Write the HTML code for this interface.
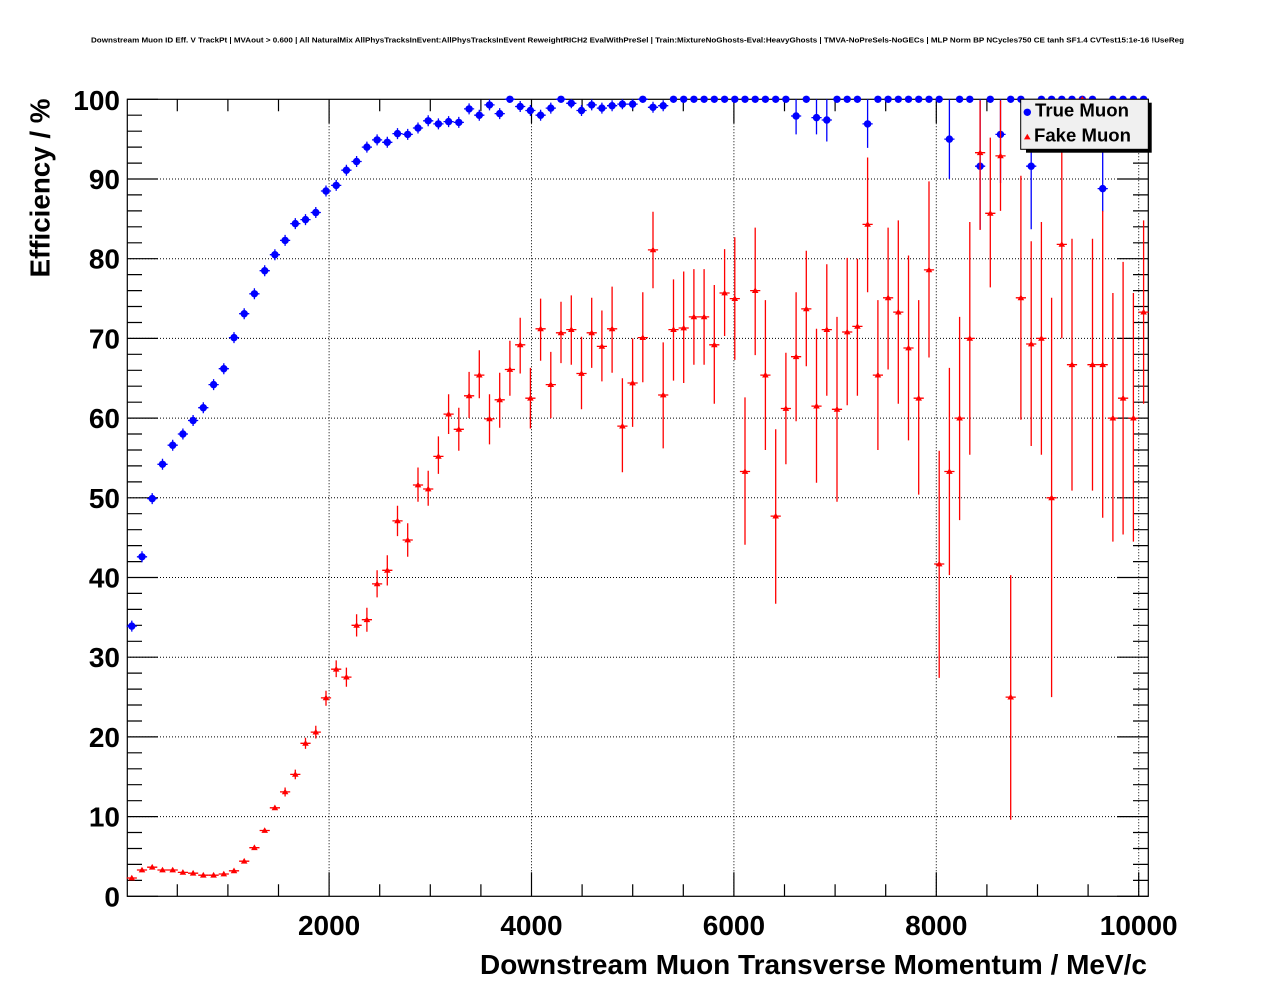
<!DOCTYPE html>
<html><head><meta charset="utf-8"><style>
html,body{margin:0;padding:0;background:#fff;}
svg{display:block;}
text{font-family:"Liberation Sans",Arial,Helvetica,sans-serif;font-weight:bold;fill:#000;}
</style></head><body>
<svg width="1276" height="996" viewBox="0 0 1276 996" xmlns="http://www.w3.org/2000/svg">
<defs>
<circle id="c" r="3.7" fill="#0000ff"/>
<path id="t" d="M-3.3,2.4H3.3L0,-3.3Z" fill="#ff0000"/>
</defs>
<rect width="1276" height="996" fill="#fff"/>
<text x="91" y="42.7" font-size="7.7" textLength="1093" lengthAdjust="spacingAndGlyphs">Downstream Muon ID Eff. V TrackPt | MVAout &gt; 0.600 | All NaturalMix AllPhysTracksInEvent:AllPhysTracksInEvent ReweightRICH2 EvalWithPreSel | Train:MixtureNoGhosts-Eval:HeavyGhosts | TMVA-NoPreSels-NoGECs | MLP Norm BP NCycles750 CE tanh SF1.4 CVTest15:1e-16 !UseReg</text>

<!-- grid -->
<g stroke="#000" stroke-width="1" stroke-dasharray="1 2" fill="none">
<path d="M329.1 99.3V896.3M531.5 99.3V896.3M733.9 99.3V896.3M936.3 99.3V896.3M1138.7 99.3V896.3"/>
<path d="M127 816.6H1148M127 736.9H1148M127 657.2H1148M127 577.5H1148M127 497.8H1148M127 418.1H1148M127 338.4H1148M127 258.7H1148M127 179H1148"/>
</g>

<!-- frame -->
<rect x="127.3" y="99.3" width="1021" height="797" fill="none" stroke="#000" stroke-width="1.2"/>

<!-- ticks -->
<g stroke="#000" stroke-width="1.2" fill="none">
<path d="M127 896.3h31M127 816.6h31M127 736.9h31M127 657.2h31M127 577.5h31M127 497.8h31M127 418.1h31M127 338.4h31M127 258.7h31M127 179h31M127 99.3h31"/>
<path d="M127 880.4h15M127 864.4h15M127 848.5h15M127 832.5h15M127 800.7h15M127 784.7h15M127 768.8h15M127 752.8h15M127 721h15M127 705h15M127 689.1h15M127 673.1h15M127 641.3h15M127 625.3h15M127 609.4h15M127 593.4h15M127 561.6h15M127 545.6h15M127 529.7h15M127 513.7h15M127 481.9h15M127 465.9h15M127 450h15M127 434h15M127 402.2h15M127 386.2h15M127 370.3h15M127 354.3h15M127 322.5h15M127 306.5h15M127 290.6h15M127 274.6h15M127 242.8h15M127 226.8h15M127 210.9h15M127 194.9h15M127 163.1h15M127 147.1h15M127 131.2h15M127 115.2h15"/>
<path d="M1148 896.3h-31M1148 816.6h-31M1148 736.9h-31M1148 657.2h-31M1148 577.5h-31M1148 497.8h-31M1148 418.1h-31M1148 338.4h-31M1148 258.7h-31M1148 179h-31M1148 99.3h-31"/>
<path d="M1148 880.4h-15M1148 864.4h-15M1148 848.5h-15M1148 832.5h-15M1148 800.7h-15M1148 784.7h-15M1148 768.8h-15M1148 752.8h-15M1148 721h-15M1148 705h-15M1148 689.1h-15M1148 673.1h-15M1148 641.3h-15M1148 625.3h-15M1148 609.4h-15M1148 593.4h-15M1148 561.6h-15M1148 545.6h-15M1148 529.7h-15M1148 513.7h-15M1148 481.9h-15M1148 465.9h-15M1148 450h-15M1148 434h-15M1148 402.2h-15M1148 386.2h-15M1148 370.3h-15M1148 354.3h-15M1148 322.5h-15M1148 306.5h-15M1148 290.6h-15M1148 274.6h-15M1148 242.8h-15M1148 226.8h-15M1148 210.9h-15M1148 194.9h-15M1148 163.1h-15M1148 147.1h-15M1148 131.2h-15M1148 115.2h-15"/>
<path d="M177.3 896.3v-12M227.9 896.3v-12M278.5 896.3v-12M329.1 896.3v-24M379.7 896.3v-12M430.3 896.3v-12M480.9 896.3v-12M531.5 896.3v-24M582.1 896.3v-12M632.7 896.3v-12M683.3 896.3v-12M733.9 896.3v-24M784.5 896.3v-12M835.1 896.3v-12M885.7 896.3v-12M936.3 896.3v-24M986.9 896.3v-12M1037.5 896.3v-12M1088.1 896.3v-12M1138.7 896.3v-24"/>
<path d="M177.3 99.3v12M227.9 99.3v12M278.5 99.3v12M329.1 99.3v24M379.7 99.3v12M430.3 99.3v12M480.9 99.3v12M531.5 99.3v24M582.1 99.3v12M632.7 99.3v12M683.3 99.3v12M733.9 99.3v24M784.5 99.3v12M835.1 99.3v12M885.7 99.3v12M936.3 99.3v24M986.9 99.3v12M1037.5 99.3v12M1088.1 99.3v12M1138.7 99.3v24"/>
</g>

<!-- axis labels -->
<g font-size="28" text-anchor="end">
<text x="120" y="906.3">0</text>
<text x="120" y="826.6">10</text>
<text x="120" y="746.9">20</text>
<text x="120" y="667.2">30</text>
<text x="120" y="587.5">40</text>
<text x="120" y="507.8">50</text>
<text x="120" y="428.1">60</text>
<text x="120" y="348.4">70</text>
<text x="120" y="268.7">80</text>
<text x="120" y="189">90</text>
<text x="120" y="110">100</text>
</g>
<g font-size="28" text-anchor="middle">
<text x="329.1" y="935">2000</text>
<text x="531.5" y="935">4000</text>
<text x="733.9" y="935">6000</text>
<text x="936.3" y="935">8000</text>
<text x="1138.7" y="935">10000</text>
</g>
<text x="1147" y="974" font-size="28" text-anchor="end" textLength="667" lengthAdjust="spacingAndGlyphs">Downstream Muon Transverse Momentum / MeV/c</text>
<text transform="translate(49.5,277.5) rotate(-90)" x="0" y="0" font-size="28" textLength="179" lengthAdjust="spacingAndGlyphs">Efficiency / %</text>

<!-- blue series -->
<path fill="none" stroke="#0000ff" stroke-width="1.3" d="M126.7 626.1h10.2M131.8 620.6v11M136.9 556.8h10.2M142 551.3v11M147.1 498.6h10.2M152.2 493.1v11M157.4 464.3h10.2M162.5 458.8v11M167.6 445.2h10.2M172.7 439.7v11M177.8 434h10.2M182.9 428.5v11M188 420.5h10.2M193.1 415v11M198.2 407.7h10.2M203.3 402.2v11M208.5 384.6h10.2M213.6 379.1v11M218.7 368.7h10.2M223.8 363.2v11M228.9 337.6h10.2M234 332.1v11M239.1 313.7h10.2M244.2 308.2v11M249.3 293.8h10.2M254.4 288.3v11M259.6 270.7h10.2M264.7 265.2v11M269.8 254.7h10.2M274.9 249.2v11M280 240.4h10.2M285.1 234.9v11M290.2 223.6h10.2M295.3 218.1v11M300.4 219.6h10.2M305.5 214.1v11M310.7 212.5h10.2M315.8 207v11M320.9 191h10.2M326 185.5v11M331.1 185.4h10.2M336.2 179.9v11M341.3 170.2h10.2M346.4 164.7v11M351.5 161.5h10.2M356.6 156v11M361.8 147.1h10.2M366.9 141.6v11M372 139.9h10.2M377.1 134.4v11M382.2 142.3h10.2M387.3 136.8v11M392.4 133.6h10.2M397.5 128.1v11M402.6 134.4h10.2M407.7 128.9v11M412.9 128h10.2M418 122.5v11M423.1 120.8h10.2M428.2 115.3v11M433.3 123.9h10.2M438.4 118.4v11M443.5 121.6h10.2M448.6 116.1v11M453.7 122.4h10.2M458.8 116.9v11M464 108.9h10.2M469.1 103.4v11M474.2 115.2h10.2M479.3 109.7v11M484.4 104.9h10.2M489.5 99.4v11M494.6 113.6h10.2M499.7 108.1v11M504.8 99.3h10.2M515.1 106.5h10.2M520.2 101v11M525.3 110.5h10.2M530.4 105v11M535.5 115.2h10.2M540.6 109.7v11M545.7 108.1h10.2M550.8 102.6v11M555.9 99.3h10.2M566.2 103.3h10.2M571.3 99.3v9M576.4 110.5h10.2M581.5 105v11M586.6 104.9h10.2M591.7 99.4v11M596.8 108.1h10.2M601.9 102.6v11M607 105.7h10.2M612.1 100.2v11M617.3 104.1h10.2M622.4 99.3v10M627.5 104.1h10.2M632.6 99.3v10M637.7 99.3h10.2M647.9 107.3h10.2M653 101.8v11M658.1 105.7h10.2M663.2 100.2v11M791 116h10.2M796.1 99.3V134.4M811.4 117.6h10.2M816.5 99.3V134.4M821.7 120h10.2M826.8 99.3V141.5M862.5 123.9h10.2M867.6 99.3V147.9M944.3 139.1h10.2M949.4 99.3V179M975 166.2h10.2M980.1 99.3V229.2M995.4 134.4h10.2M1000.5 99.3V183M1026.1 166.2h10.2M1031.2 99.3V229.2M1097.6 188.6h10.2M1102.7 99.3V211.7"/>
<g>
<use href="#c" x="131.8" y="626.1"/><use href="#c" x="142" y="556.8"/><use href="#c" x="152.2" y="498.6"/><use href="#c" x="162.5" y="464.3"/><use href="#c" x="172.7" y="445.2"/><use href="#c" x="182.9" y="434"/><use href="#c" x="193.1" y="420.5"/><use href="#c" x="203.3" y="407.7"/><use href="#c" x="213.6" y="384.6"/><use href="#c" x="223.8" y="368.7"/>
<use href="#c" x="234" y="337.6"/><use href="#c" x="244.2" y="313.7"/><use href="#c" x="254.4" y="293.8"/><use href="#c" x="264.7" y="270.7"/><use href="#c" x="274.9" y="254.7"/><use href="#c" x="285.1" y="240.4"/><use href="#c" x="295.3" y="223.6"/><use href="#c" x="305.5" y="219.6"/><use href="#c" x="315.8" y="212.5"/><use href="#c" x="326" y="191"/>
<use href="#c" x="336.2" y="185.4"/><use href="#c" x="346.4" y="170.2"/><use href="#c" x="356.6" y="161.5"/><use href="#c" x="366.9" y="147.1"/><use href="#c" x="377.1" y="139.9"/><use href="#c" x="387.3" y="142.3"/><use href="#c" x="397.5" y="133.6"/><use href="#c" x="407.7" y="134.4"/><use href="#c" x="418" y="128"/><use href="#c" x="428.2" y="120.8"/>
<use href="#c" x="438.4" y="123.9"/><use href="#c" x="448.6" y="121.6"/><use href="#c" x="458.8" y="122.4"/><use href="#c" x="469.1" y="108.9"/><use href="#c" x="479.3" y="115.2"/><use href="#c" x="489.5" y="104.9"/><use href="#c" x="499.7" y="113.6"/><use href="#c" x="509.9" y="99.3"/><use href="#c" x="520.2" y="106.5"/><use href="#c" x="530.4" y="110.5"/>
<use href="#c" x="540.6" y="115.2"/><use href="#c" x="550.8" y="108.1"/><use href="#c" x="561" y="99.3"/><use href="#c" x="571.3" y="103.3"/><use href="#c" x="581.5" y="110.5"/><use href="#c" x="591.7" y="104.9"/><use href="#c" x="601.9" y="108.1"/><use href="#c" x="612.1" y="105.7"/><use href="#c" x="622.4" y="104.1"/><use href="#c" x="632.6" y="104.1"/>
<use href="#c" x="642.8" y="99.3"/><use href="#c" x="653" y="107.3"/><use href="#c" x="663.2" y="105.7"/><use href="#c" x="673.5" y="99.3"/><use href="#c" x="683.7" y="99.3"/><use href="#c" x="693.9" y="99.3"/><use href="#c" x="704.1" y="99.3"/><use href="#c" x="714.3" y="99.3"/><use href="#c" x="724.6" y="99.3"/><use href="#c" x="734.8" y="99.3"/>
<use href="#c" x="745" y="99.3"/><use href="#c" x="755.2" y="99.3"/><use href="#c" x="765.4" y="99.3"/><use href="#c" x="775.7" y="99.3"/><use href="#c" x="785.9" y="99.3"/><use href="#c" x="796.1" y="116"/><use href="#c" x="806.3" y="99.3"/><use href="#c" x="816.5" y="117.6"/><use href="#c" x="826.8" y="120"/><use href="#c" x="837" y="99.3"/>
<use href="#c" x="847.2" y="99.3"/><use href="#c" x="857.4" y="99.3"/><use href="#c" x="867.6" y="123.9"/><use href="#c" x="877.9" y="99.3"/><use href="#c" x="888.1" y="99.3"/><use href="#c" x="898.3" y="99.3"/><use href="#c" x="908.5" y="99.3"/><use href="#c" x="918.7" y="99.3"/><use href="#c" x="929" y="99.3"/><use href="#c" x="939.2" y="99.3"/>
<use href="#c" x="949.4" y="139.1"/><use href="#c" x="959.6" y="99.3"/><use href="#c" x="969.8" y="99.3"/><use href="#c" x="980.1" y="166.2"/><use href="#c" x="990.3" y="99.3"/><use href="#c" x="1000.5" y="134.4"/><use href="#c" x="1010.7" y="99.3"/><use href="#c" x="1020.9" y="99.3"/><use href="#c" x="1031.2" y="166.2"/><use href="#c" x="1041.4" y="99.3"/>
<use href="#c" x="1051.6" y="99.3"/><use href="#c" x="1061.8" y="99.3"/><use href="#c" x="1072" y="99.3"/><use href="#c" x="1082.3" y="99.3"/><use href="#c" x="1092.5" y="99.3"/><use href="#c" x="1102.7" y="188.6"/><use href="#c" x="1112.9" y="99.3"/><use href="#c" x="1123.1" y="99.3"/><use href="#c" x="1133.4" y="99.3"/><use href="#c" x="1143.6" y="99.3"/>
</g>

<!-- red series -->
<path fill="none" stroke="#ff0000" stroke-width="1.3" d="M126.7 878h10.2M136.9 870h10.2M147.1 867.2h10.2M157.4 870h10.2M167.6 870h10.2M177.8 872.4h10.2M188 873.2h10.2M198.2 875.2h10.2M208.5 875.2h10.2M218.7 874h10.2M228.9 870.8h10.2M239.1 861.2h10.2M249.3 847.7h10.2M259.6 830.5h10.2M269.8 807.8h10.2M280 791.9h10.2M285.1 787.5v9M290.2 774.4h10.2M295.3 769.6v9.6M300.4 743.3h10.2M305.5 737.7V748.9M310.7 732.1h10.2M315.8 725.7V738.5M320.9 697.9h10.2M326 690.7V705.8M331.1 669.2h10.2M336.2 660.4V677.1M341.3 677.1h10.2M346.4 667.6V686.7M351.5 625.3h10.2M356.6 614.2V636.5M361.8 619.7h10.2M366.9 607.8V631.7M372 583.9h10.2M377.1 570.3V597.4M382.2 570.3h10.2M387.3 555.2V585.5M392.4 520.9h10.2M397.5 505.8V536.1M402.6 540h10.2M407.7 523.3V556.8M412.9 485h10.2M418 467.5V501.8M423.1 489h10.2M428.2 470.7V505.8M433.3 456.4h10.2M438.4 436.4V473.9M443.5 414.1h10.2M448.6 394.2V434M453.7 429.3h10.2M458.8 407.7V450.8M464 395.8h10.2M469.1 371.9V418.1M474.2 375.1h10.2M479.3 350.3V398.2M484.4 418.9h10.2M489.5 394.2V444.4M494.6 399.8h10.2M499.7 372.7V427.7M504.8 369.5h10.2M509.9 340.8V395.8M515.1 344.8h10.2M520.2 317.7V373.5M525.3 398.2h10.2M530.4 367.9V428.5M535.5 328.8h10.2M540.6 298.6V360.7M545.7 384.6h10.2M550.8 351.9V418.1M555.9 332.8h10.2M561 301.7V363.1M566.2 329.6h10.2M571.3 295.4V364.7M576.4 373.5h10.2M581.5 336.8V409.3M586.6 332.8h10.2M591.7 297.8V367.9M596.8 346.4h10.2M601.9 310.5V381.4M607 328.8h10.2M612.1 286.6V372.7M617.3 426.1h10.2M622.4 378.2V472.3M627.5 383h10.2M632.6 338.4V426.9M637.7 337.6h10.2M642.8 292.2V382.2M647.9 249.9h10.2M653 211.7V288.2M658.1 395h10.2M663.2 342.4V448.4M668.4 329.6h10.2M673.5 279.4V380.6M678.6 328h10.2M683.7 271.5V383M688.8 316.9h10.2M693.9 269.1V364.7M699 316.9h10.2M704.1 269.1V364.7M709.2 344.8h10.2M714.3 285V403.8M719.5 293h10.2M724.6 249.1V336M729.7 298.6h10.2M734.8 237.2V359.9M739.9 471.5h10.2M745 397.4V544.8M750.1 290.6h10.2M755.2 227.6V355.1M760.3 375.1h10.2M765.4 300.1V450M770.6 516.1h10.2M775.7 429.3V603.8M780.8 408.5h10.2M785.9 352.7V464.3M791 356.7h10.2M796.1 292.2V421.3M801.2 308.9h10.2M806.3 250.7V366.3M811.4 406.1h10.2M816.5 328.8V482.7M821.7 329.6h10.2M826.8 264.3V395.8M831.9 409.3h10.2M837 316.9V501.8M842.1 332h10.2M847.2 257.9V405.3M852.3 326.4h10.2M857.4 258.7V395.8M862.5 224.4h10.2M867.6 157.5V292.2M872.8 375.1h10.2M877.9 300.1V450M883 297.8h10.2M888.1 227.6V369.5M893.2 312.1h10.2M898.3 220.4V403.8M903.4 348h10.2M908.5 255.5V440.4M913.6 398.2h10.2M918.7 300.1V494.6M923.9 269.9h10.2M929 181.4V357.5M934.1 564h10.2M939.2 450.8V677.9M944.3 471.5h10.2M949.4 367.9V575.1M954.5 418.1h10.2M959.6 316.9V520.1M964.7 338.4h10.2M969.8 222V454.8M975 152.7h10.2M980.1 100.5V230M985.2 213.3h10.2M990.3 137.6V287.4M995.4 155.9h10.2M1000.5 100.5V210.9M1005.6 697.1h10.2M1010.7 575.1V819.8M1015.8 297.8h10.2M1020.9 175.8V419.7M1026.1 344h10.2M1031.2 241.2V446M1036.3 338.4h10.2M1041.4 222V454.8M1046.5 497.8h10.2M1051.6 297.8V697.1M1056.7 244.4h10.2M1061.8 149.5V338.4M1066.9 364.7h10.2M1072 238.8V490.6M1077.2 99.3h10.2M1082.3 99.3V147M1087.4 364.7h10.2M1092.5 238.8V490.6M1097.6 364.7h10.2M1102.7 210.9V517.7M1107.8 418.1h10.2M1112.9 293V541.6M1118 398.2h10.2M1123.1 261.9V534.5M1128.3 418.1h10.2M1133.4 293V541.6M1138.5 312.1h10.2M1143.6 220.4V403.8"/>
<g>
<use href="#t" x="131.8" y="878"/><use href="#t" x="142" y="870"/><use href="#t" x="152.2" y="867.2"/><use href="#t" x="162.5" y="870"/><use href="#t" x="172.7" y="870"/><use href="#t" x="182.9" y="872.4"/><use href="#t" x="193.1" y="873.2"/><use href="#t" x="203.3" y="875.2"/><use href="#t" x="213.6" y="875.2"/><use href="#t" x="223.8" y="874"/>
<use href="#t" x="234" y="870.8"/><use href="#t" x="244.2" y="861.2"/><use href="#t" x="254.4" y="847.7"/><use href="#t" x="264.7" y="830.5"/><use href="#t" x="274.9" y="807.8"/><use href="#t" x="285.1" y="791.9"/><use href="#t" x="295.3" y="774.4"/><use href="#t" x="305.5" y="743.3"/><use href="#t" x="315.8" y="732.1"/><use href="#t" x="326" y="697.9"/>
<use href="#t" x="336.2" y="669.2"/><use href="#t" x="346.4" y="677.1"/><use href="#t" x="356.6" y="625.3"/><use href="#t" x="366.9" y="619.7"/><use href="#t" x="377.1" y="583.9"/><use href="#t" x="387.3" y="570.3"/><use href="#t" x="397.5" y="520.9"/><use href="#t" x="407.7" y="540"/><use href="#t" x="418" y="485"/><use href="#t" x="428.2" y="489"/>
<use href="#t" x="438.4" y="456.4"/><use href="#t" x="448.6" y="414.1"/><use href="#t" x="458.8" y="429.3"/><use href="#t" x="469.1" y="395.8"/><use href="#t" x="479.3" y="375.1"/><use href="#t" x="489.5" y="418.9"/><use href="#t" x="499.7" y="399.8"/><use href="#t" x="509.9" y="369.5"/><use href="#t" x="520.2" y="344.8"/><use href="#t" x="530.4" y="398.2"/>
<use href="#t" x="540.6" y="328.8"/><use href="#t" x="550.8" y="384.6"/><use href="#t" x="561" y="332.8"/><use href="#t" x="571.3" y="329.6"/><use href="#t" x="581.5" y="373.5"/><use href="#t" x="591.7" y="332.8"/><use href="#t" x="601.9" y="346.4"/><use href="#t" x="612.1" y="328.8"/><use href="#t" x="622.4" y="426.1"/><use href="#t" x="632.6" y="383"/>
<use href="#t" x="642.8" y="337.6"/><use href="#t" x="653" y="249.9"/><use href="#t" x="663.2" y="395"/><use href="#t" x="673.5" y="329.6"/><use href="#t" x="683.7" y="328"/><use href="#t" x="693.9" y="316.9"/><use href="#t" x="704.1" y="316.9"/><use href="#t" x="714.3" y="344.8"/><use href="#t" x="724.6" y="293"/><use href="#t" x="734.8" y="298.6"/>
<use href="#t" x="745" y="471.5"/><use href="#t" x="755.2" y="290.6"/><use href="#t" x="765.4" y="375.1"/><use href="#t" x="775.7" y="516.1"/><use href="#t" x="785.9" y="408.5"/><use href="#t" x="796.1" y="356.7"/><use href="#t" x="806.3" y="308.9"/><use href="#t" x="816.5" y="406.1"/><use href="#t" x="826.8" y="329.6"/><use href="#t" x="837" y="409.3"/>
<use href="#t" x="847.2" y="332"/><use href="#t" x="857.4" y="326.4"/><use href="#t" x="867.6" y="224.4"/><use href="#t" x="877.9" y="375.1"/><use href="#t" x="888.1" y="297.8"/><use href="#t" x="898.3" y="312.1"/><use href="#t" x="908.5" y="348"/><use href="#t" x="918.7" y="398.2"/><use href="#t" x="929" y="269.9"/><use href="#t" x="939.2" y="564"/>
<use href="#t" x="949.4" y="471.5"/><use href="#t" x="959.6" y="418.1"/><use href="#t" x="969.8" y="338.4"/><use href="#t" x="980.1" y="152.7"/><use href="#t" x="990.3" y="213.3"/><use href="#t" x="1000.5" y="155.9"/><use href="#t" x="1010.7" y="697.1"/><use href="#t" x="1020.9" y="297.8"/><use href="#t" x="1031.2" y="344"/><use href="#t" x="1041.4" y="338.4"/>
<use href="#t" x="1051.6" y="497.8"/><use href="#t" x="1061.8" y="244.4"/><use href="#t" x="1072" y="364.7"/><use href="#t" x="1082.3" y="99.3"/><use href="#t" x="1092.5" y="364.7"/><use href="#t" x="1102.7" y="364.7"/><use href="#t" x="1112.9" y="418.1"/><use href="#t" x="1123.1" y="398.2"/><use href="#t" x="1133.4" y="418.1"/><use href="#t" x="1143.6" y="312.1"/>
</g>

<!-- legend -->
<rect x="1026" y="102.7" width="125.7" height="50" fill="#000"/>
<rect x="1020.7" y="99.3" width="127.6" height="50" fill="#f0f0f0" stroke="#000" stroke-width="1"/>
<use href="#c" x="1027.3" y="112.3"/>
<use href="#t" x="1027.3" y="137"/>
<text x="1035" y="116.7" font-size="18.5" textLength="94" lengthAdjust="spacingAndGlyphs">True Muon</text>
<text x="1034" y="141.7" font-size="18.5" textLength="97" lengthAdjust="spacingAndGlyphs">Fake Muon</text>
</svg>
</body></html>
